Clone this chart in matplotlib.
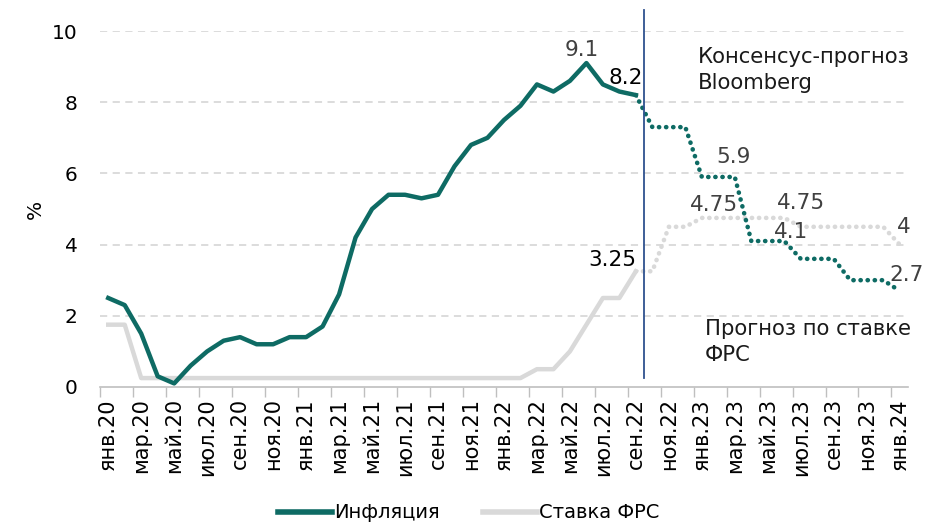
import matplotlib
matplotlib.use("Agg")
import matplotlib.pyplot as plt

# ---------------------------
# Data
# ---------------------------
month_names = ["янв", "фев", "мар", "апр", "май", "июн",
               "июл", "авг", "сен", "окт", "ноя", "дек"]
years = ["20", "21", "22", "23", "24"]
months = [m + "." + y for y in years for m in month_names][:49]  # янв.20 .. янв.24

# факт: янв.20 .. сен.22
inflation = [2.5, 2.3, 1.5, 0.3, 0.1, 0.6, 1.0, 1.3, 1.4, 1.2, 1.2, 1.4,
             1.4, 1.7, 2.6, 4.2, 5.0, 5.4, 5.4, 5.3, 5.4, 6.2, 6.8, 7.0,
             7.5, 7.9, 8.5, 8.3, 8.6, 9.1, 8.5, 8.3, 8.2]
fed_rate = [1.75, 1.75] + [0.25] * 24 + [0.5, 0.5, 1.0, 1.75, 2.5, 2.5, 3.25]

# прогноз: сен.22 .. янв.24
inflation_fc = [8.2, 7.3, 7.3, 7.3, 5.9, 5.9, 5.9, 4.1, 4.1, 4.1,
                3.6, 3.6, 3.6, 3.0, 3.0, 3.0, 2.7]
fed_fc = [3.25, 3.25, 4.5, 4.5, 4.75, 4.75, 4.75, 4.75, 4.75, 4.75,
          4.5, 4.5, 4.5, 4.5, 4.5, 4.5, 4.0]

GREEN = "#0E6B64"
GREY = "#D9D9D9"

plt.rcParams["font.family"] = ["DejaVu Sans"]
plt.rcParams["font.size"] = 14

fig = plt.figure(figsize=(9.37, 5.26), dpi=100)
ax = fig.add_axes([0.1067, 0.2643, 0.8623, 0.6767])

x_fact = list(range(len(inflation)))
start_fc = len(inflation) - 1
x_fc = list(range(start_fc, start_fc + len(inflation_fc)))

# ---------------------------
# Lines
# ---------------------------
ax.plot(x_fact, fed_rate, color=GREY, lw=3.2, solid_joinstyle="round", zorder=3)
ax.plot(x_fact, inflation, color=GREEN, lw=3.2, solid_joinstyle="round", zorder=4)

dots = (0, (0.05, 1.5))
ax.plot(x_fc, fed_fc, color=GREY, lw=3.3, linestyle=dots,
        dash_capstyle="round", zorder=3)
ax.plot(x_fc, inflation_fc, color=GREEN, lw=3.3, linestyle=dots,
        dash_capstyle="round", zorder=4)

# vertical separator
ax.plot([start_fc + 0.5] * 2, [0.25, 10.6], color="#2F528F", lw=1.3,
        clip_on=False, zorder=5)

# ---------------------------
# Value labels
# ---------------------------
def label(text, xi, yi, dx, dy, color="#404040"):
    ax.annotate(text, xy=(xi, yi), xytext=(dx, dy), textcoords="offset pixels",
                ha="center", va="center", color=color, fontsize=15.5, zorder=6)

label("9.1", 29, inflation[29], -5, 13)
label("8.2", 32, inflation[32], -10, 17, color="black")
label("3.25", 32, fed_rate[32], -24, 11, color="black")
label("5.9", 38, inflation_fc[38 - start_fc], -1, 20)
label("4.75", 36, fed_fc[36 - start_fc], 12, 13)
label("4.75", 41, fed_fc[41 - start_fc], 17, 15)
label("4.1", 41, inflation_fc[41 - start_fc], 7, 9)
label("4", 48, fed_fc[-1], 4, 18)
label("2.7", 48, inflation_fc[-1], 7, 16)

fig.text(698 / 937, 1 - 47 / 526, "Консенсус-прогноз\nBloomberg",
         ha="left", va="top", fontsize=15.2, color="#1a1a1a", linespacing=1.4)
fig.text(705 / 937, 1 - 319 / 526, "Прогноз по ставке\nФРС",
         ha="left", va="top", fontsize=15.2, color="#1a1a1a", linespacing=1.4)

# ---------------------------
# Axes
# ---------------------------
ax.set_xlim(-0.5, len(months) - 0.5)
ax.set_ylim(0, 10)
ax.set_yticks([0, 2, 4, 6, 8, 10])
ax.set_yticklabels(["0", "2", "4", "6", "8", "10"], fontsize=14.5)
ax.set_ylabel("%", fontsize=14.5, labelpad=5)

ax.set_xticks(range(0, len(months), 2))
ax.set_xticklabels(months[::2], rotation=90, fontsize=15)
ax.set_xticks([i - 0.5 for i in range(0, len(months) + 1, 2)], minor=True)
ax.tick_params(axis="x", which="major", length=0, pad=8)
ax.tick_params(axis="x", which="minor", length=7, color="#BFBFBF", width=1)
ax.tick_params(axis="y", length=0, pad=16)

for y in [2, 4, 6, 8, 10]:
    ax.axhline(y, color=GREY, lw=1.3, linestyle=(0, (4, 3)), zorder=1)

for s in ["top", "right", "left"]:
    ax.spines[s].set_visible(False)
ax.spines["bottom"].set_color("#BFBFBF")
ax.spines["bottom"].set_linewidth(1.2)

# ---------------------------
# Legend
# ---------------------------
h1, = ax.plot([], [], color=GREEN, lw=4)
h2, = ax.plot([], [], color=GREY, lw=4)
fig.legend([h1, h2], ["Инфляция", "Ставка ФРС"], loc="center",
           bbox_to_anchor=(0.5, 1 - 513 / 526), ncol=2, frameon=False,
           handlelength=2.8, handletextpad=0.1, columnspacing=2.2, fontsize=14)

fig.savefig("out.png", dpi=100)
